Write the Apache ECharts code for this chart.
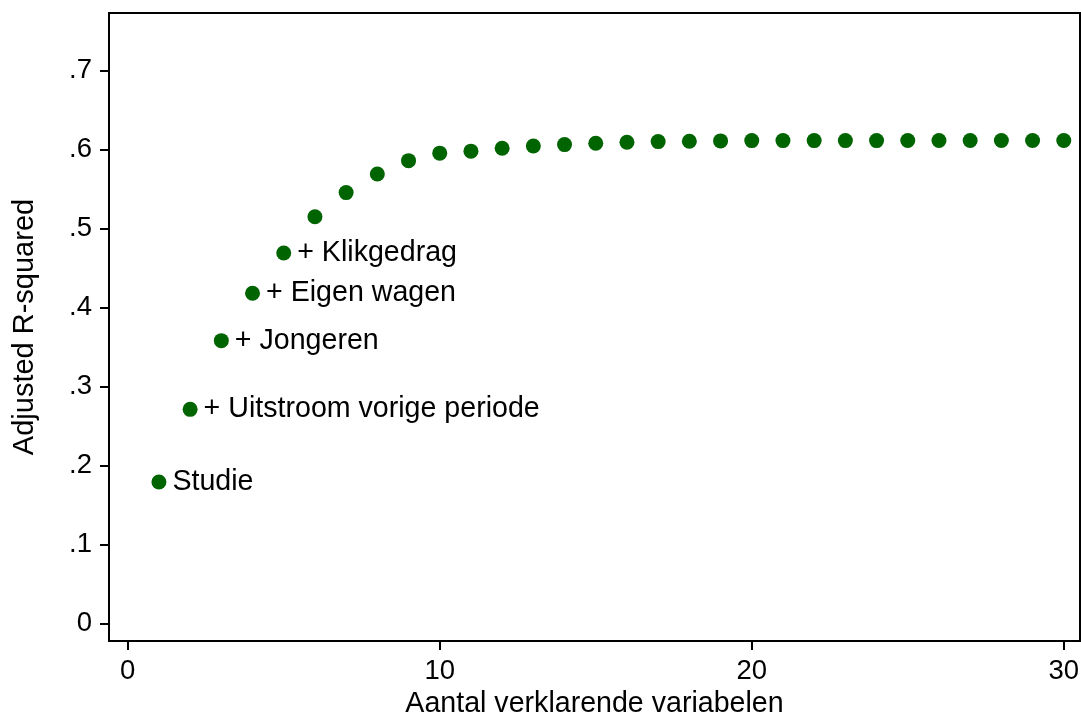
<!DOCTYPE html>
<html>
<head>
<meta charset="utf-8">
<script src="https://cdn.jsdelivr.net/npm/echarts@6/dist/echarts.min.js"></script>
<style>
  html, body { margin: 0; padding: 0; background: #fff; }
  #chart { width: 1081px; height: 715px; }
</style>
</head>
<body>
<div id="chart"></div>
<script>
// number of explanatory variables vs adjusted R-squared
const nVars = [1, 2, 3, 4, 5, 6, 7, 8, 9, 10, 11, 12, 13, 14, 15,
  16, 17, 18, 19, 20, 21, 22, 23, 24, 25, 26, 27, 28, 29, 30];
const adjR2 = [0.179, 0.271, 0.358, 0.418, 0.469, 0.515, 0.5455, 0.569, 0.586, 0.5955,
  0.598, 0.6017, 0.6046, 0.6063, 0.608, 0.6093, 0.6101, 0.6106, 0.611, 0.6114,
  0.6114, 0.6114, 0.6114, 0.6114, 0.6115, 0.6115, 0.6115, 0.6115, 0.6115, 0.6115];
const pointLabels = ['Studie', '+ Uitstroom vorige periode', '+ Jongeren',
  '+ Eigen wagen', '+ Klikgedrag'];
const xTicks = [0, 10, 20, 30];
const yTicks = [0, 0.1, 0.2, 0.3, 0.4, 0.5, 0.6, 0.7];

const font = '"Liberation Sans", Arial, sans-serif';
const chart = echarts.init(document.getElementById('chart'));

const fmtY = v => {
  if (Math.abs(v) < 1e-9) return '0';
  return (+v).toFixed(1).replace(/^0/, '');
};

const option = {
  animation: false,
  textStyle: { fontFamily: font },
  grid: {
    left: 109, top: 13, right: 1, bottom: 74,
    outerBoundsMode: 'none',
    containLabel: false,
    show: true, borderColor: '#000', borderWidth: 2, backgroundColor: '#fff'
  },
  xAxis: {
    type: 'value',
    min: -0.6,
    max: 30.52,
    name: 'Aantal verklarende variabelen',
    nameLocation: 'middle',
    nameGap: 42,
    nameTextStyle: { fontSize: 28.6, color: '#000', fontFamily: font },
    axisLine: { show: true, onZero: false, lineStyle: { color: '#000', width: 2 } },
    axisTick: { show: true, length: 9, customValues: xTicks, lineStyle: { color: '#000', width: 2 } },
    axisLabel: { customValues: xTicks, fontSize: 27.5, color: '#000', margin: 16, fontFamily: font },
    splitLine: { show: false }
  },
  yAxis: {
    type: 'value',
    min: -0.0224,
    max: 0.773,
    name: 'Adjusted R-squared',
    nameLocation: 'middle',
    nameGap: 70,
    nameTextStyle: { fontSize: 29, color: '#000', fontFamily: font },
    axisLine: { show: true, onZero: false, lineStyle: { color: '#000', width: 2 } },
    axisTick: { show: true, length: 9, customValues: yTicks, lineStyle: { color: '#000', width: 2 } },
    axisLabel: { customValues: yTicks, fontSize: 27.5, color: '#000', margin: 17, formatter: fmtY, fontFamily: font },
    splitLine: { show: false }
  },
  series: [{
    type: 'scatter',
    symbol: 'circle',
    symbolSize: 15,
    itemStyle: { color: '#006400', opacity: 1 },
    emphasis: { disabled: true },
    data: nVars.map((x, i) => {
      const item = { value: [x, adjR2[i]] };
      if (pointLabels[i]) {
        item.label = {
          show: true,
          position: 'right',
          distance: 6,
          formatter: pointLabels[i],
          fontSize: 28.6,
          color: '#000',
          fontFamily: font
        };
      }
      return item;
    })
  }]
};

chart.setOption(option);
</script>
</body>
</html>
